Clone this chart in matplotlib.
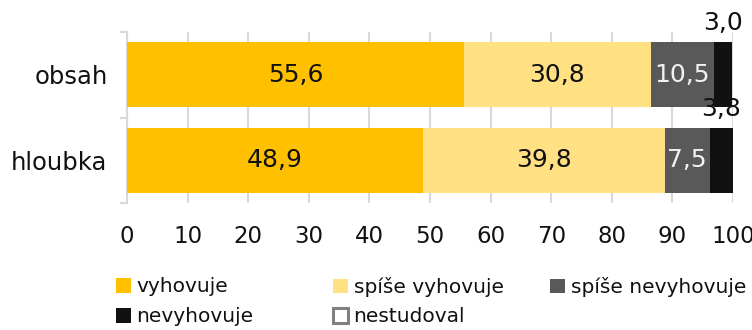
import matplotlib
matplotlib.use("Agg")
import matplotlib.pyplot as plt
from matplotlib.patches import Patch
import numpy as np

categories = ["obsah", "hloubka"]
series_names = ["vyhovuje", "spíše vyhovuje", "spíše nevyhovuje", "nevyhovuje", "nestudoval"]
vyhovuje = [55.6, 48.9]
spise_vyhovuje = [30.8, 39.8]
spise_nevyhovuje = [10.5, 7.5]
nevyhovuje = [3.0, 3.8]
nestudoval = [0.0, 0.0]
x_ticks = [0, 10, 20, 30, 40, 50, 60, 70, 80, 90, 100]

colors = ["#FFC000", "#FFE083", "#595959", "#111111", "#FFFFFF"]
text_colors = ["#111111", "#111111", "#F2F2F2", "#111111", "#111111"]

plt.rcParams['font.family'] = ['DejaVu Sans']
fig = plt.figure(figsize=(7.52, 3.30), dpi=100)
ax = fig.add_axes([127/752, 1-203/330, (733-127)/752, (203-32)/330])

data = [vyhovuje, spise_vyhovuje, spise_nevyhovuje, nevyhovuje, nestudoval]
y = np.arange(len(categories))
h = 0.76
left = np.zeros(len(categories))
for k, vals in enumerate(data):
    vals = np.array(vals)
    ax.barh(y, vals, left=left, height=h, color=colors[k],
            edgecolor="#808080" if k == 4 else "none", linewidth=0, zorder=3)
    for i, v in enumerate(vals):
        if v <= 0:
            continue
        cx = left[i] + v / 2
        lab = f"{v:.1f}".replace(".", ",")
        if v < 5:
            ax.text(cx, y[i] - h/2 - 0.22, lab, ha="center", va="center",
                    fontsize=18, color="#111111", zorder=5, clip_on=False)
        else:
            ax.text(cx, y[i], lab, ha="center", va="center",
                    fontsize=18, color=text_colors[k], zorder=5)
    left += vals

ax.set_xlim(0, 100)
ax.set_ylim(len(categories) - 0.5, -0.5)
ax.set_xticks(x_ticks)
ax.set_xticklabels([str(t) for t in x_ticks], fontsize=16.5, color="#111111")
ax.set_yticks(y)
ax.set_yticklabels(categories, fontsize=17.5, color="#111111")
ax.set_yticks([-0.5, 0.5, 1.5], minor=True)
ax.tick_params(axis="x", length=0, pad=16)
ax.tick_params(axis="y", which="major", length=0, pad=14)
ax.tick_params(axis="y", which="minor", length=5, color="#D9D9D9", width=1.5)
ax.xaxis.grid(True, color="#D9D9D9", linewidth=1.5, zorder=0)
ax.set_axisbelow(True)
for s in ["top", "right", "bottom"]:
    ax.spines[s].set_visible(False)
ax.spines["left"].set_color("#D9D9D9")
ax.spines["left"].set_linewidth(1.5)

# legend entries placed in a 3-column grid
col_x = [116, 333, 550]
row_y = [287, 317]
order = [0, 1, 2, 3, 4]
for n, k in enumerate(order):
    r, c = divmod(n, 3)
    handle = Patch(facecolor=colors[k], edgecolor="#808080" if k == 4 else colors[k],
                   linewidth=2.2 if k == 4 else 0)
    leg = fig.legend([handle], [series_names[k]], loc="center left",
                     bbox_to_anchor=(col_x[c] / 752, 1 - row_y[r] / 330),
                     frameon=False, fontsize=14.5, handlelength=0.72, handleheight=0.72,
                     handletextpad=0.3, borderpad=0, borderaxespad=0)
    for t in leg.get_texts():
        t.set_color("#111111")

fig.savefig("out.png", dpi=100)
